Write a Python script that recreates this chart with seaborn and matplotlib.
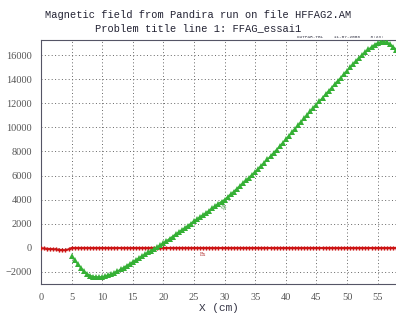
import numpy as np
import pandas as pd
import seaborn as sns
import matplotlib.pyplot as plt

# field components, x in cm (0.5 cm mesh)
bx_x = [0.0, 0.5, 1.0, 1.5, 2.0, 2.5, 3.0, 3.5, 4.0, 4.5]
bx_head = [-30, -50, -70, -90, -110, -130, -160, -180, -190, -120]
bx_tail_x = list(np.arange(5.0, 58.5, 0.5))
bx_tail = [0.0] * len(bx_tail_x)

by_x = list(np.arange(5.0, 58.5, 0.5))
by_vals = [
    -700, -1000, -1350, -1650, -1950, -2150, -2300, -2380, -2420, -2420,   # 5 - 9.5
    -2400, -2350, -2270, -2180, -2060, -1930, -1790, -1640, -1490, -1330,  # 10 - 14.5
    -1170, -1010, -850, -690, -530, -380, -230, -80, 60, 230,              # 15 - 19.5
    400, 580, 760, 940, 1120, 1300, 1480, 1660, 1840, 2020,                # 20 - 24.5
    2200, 2380, 2560, 2740, 2920, 3100, 3290, 3480, 3680, 3840,            # 25 - 29.5
    4000, 4220, 4440, 4670, 4900, 5130, 5370, 5600, 5830, 6070,            # 30 - 34.5
    6300, 6560, 6820, 7080, 7340, 7610, 7880, 8150, 8430, 8710,            # 35 - 39.5
    9000, 9290, 9580, 9870, 10160, 10450, 10740, 11030, 11320, 11610,      # 40 - 44.5
    11900, 12180, 12460, 12740, 13020, 13300, 13580, 13860, 14140, 14420,  # 45 - 49.5
    14700, 14980, 15250, 15520, 15780, 16030, 16260, 16480, 16680, 16860,  # 50 - 54.5
    17000, 17100, 17120, 17050, 16900, 16700, 16450, 16150, 15800, 15350,  # 55 - 59.5
]
by_vals = by_vals[:len(by_x)]

title_lines = ["Magnetic field from Pandira run on file HFFAG2.AM",
               "Problem title line 1: FFAG_essai1"]
stamp = "OUTPAR.TBL    11-07-2006    8:23:"

bx = pd.DataFrame({"x": bx_x + bx_tail_x, "B": bx_head + bx_tail})
by = pd.DataFrame({"x": by_x, "B": by_vals})

sns.set_style("white")
fig = plt.figure(figsize=(3.96, 3.18), dpi=100)
ax = fig.add_axes([0.1035, 0.107, 0.8965, 0.767])

sns.lineplot(data=bx, x="x", y="B", ax=ax, color="#cc1414", lw=1.3,
             marker="P", markersize=3, markeredgewidth=0, zorder=3)
sns.lineplot(data=by, x="x", y="B", ax=ax, color="#35b035", lw=1.1,
             marker="^", markersize=4.2, markeredgewidth=0, zorder=4)

ax.set_xlim(0, 58)
ax.set_ylim(-3000, 17250)
ax.set_xticks(range(0, 60, 5))
ax.set_yticks(range(-2000, 17000, 2000))
ax.grid(True, color="#666666", linestyle=(0, (1, 2.5)), linewidth=0.7)
ax.tick_params(labelsize=7.5, colors="#555555", length=2.5, width=0.6, pad=4)
for lab in ax.get_xticklabels() + ax.get_yticklabels():
    lab.set_family("Liberation Serif")
for s in ax.spines.values():
    s.set_color("#555566")
    s.set_linewidth(0.8)
ax.spines["right"].set_visible(False)

ax.set_xlabel("X (cm)", family="Liberation Mono", fontsize=8, color="#333344",
              labelpad=1)
ax.set_ylabel("")

ax.text(26, -700, "Bx", fontsize=4, color="#b03030", family="Liberation Serif")
ax.text(29.3, 3100, "By", fontsize=4, color="#2a8a2a", family="Liberation Serif",
        rotation=-20)

fig.text(0.5, 0.953, title_lines[0], ha="center", va="center",
         family="Liberation Mono", fontsize=7.5, color="#222233")
fig.text(0.5, 0.912, title_lines[1], ha="center", va="center",
         family="Liberation Mono", fontsize=7.5, color="#222233")
fig.text(0.75, 0.884, stamp, ha="left", va="center",
         family="Liberation Mono", fontsize=3.2, color="#333344")

fig.savefig("out.png", dpi=100)
